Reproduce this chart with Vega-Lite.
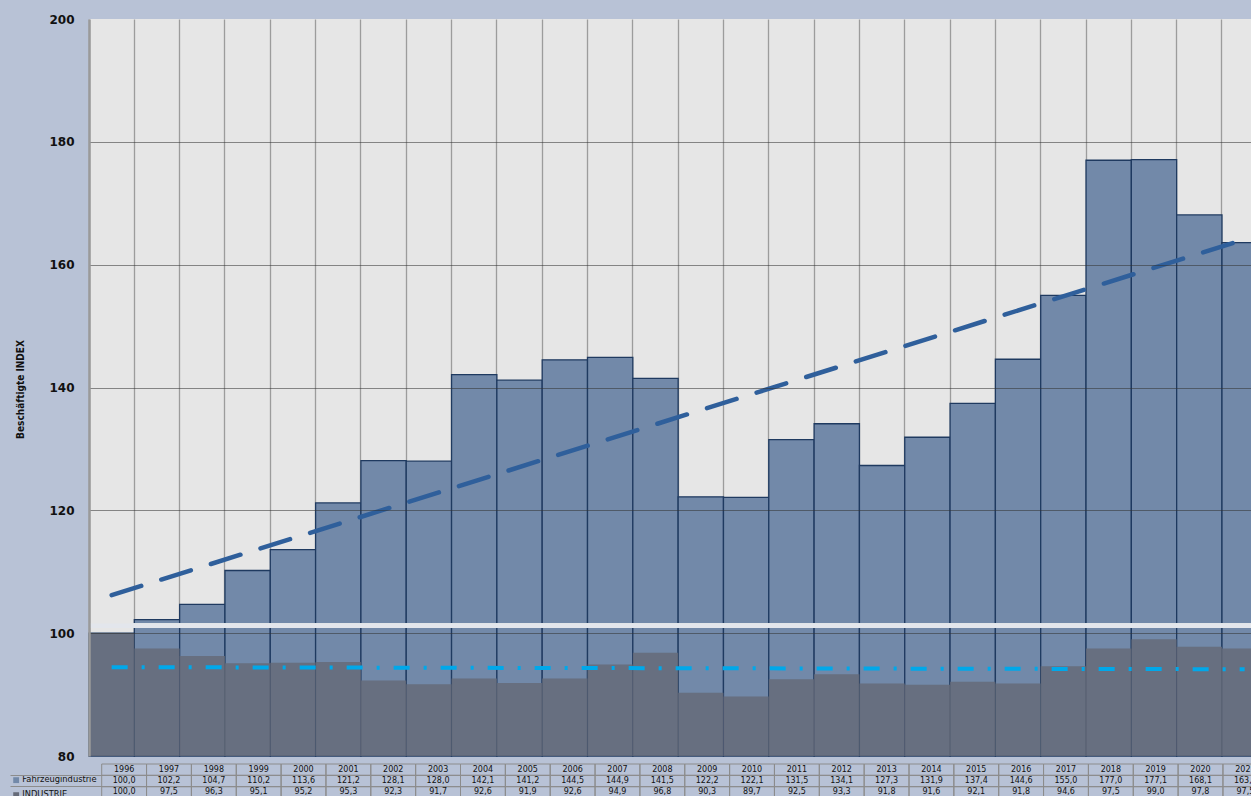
{
  "$schema": "https://vega.github.io/schema/vega-lite/v6.json",
  "autosize": {"type": "none"},
  "width": 1162,
  "height": 737,
  "padding": {"left": 89, "top": 19, "right": 0, "bottom": 40},
  "background": "#B8C2D6",
  "config": {
    "view": {"fill": "#E6E6E6", "stroke": null},
    "locale": {"number": {"decimal": ",", "thousands": ".", "grouping": [3], "currency": ["", " €"]}}
  },
  "data": {"values": [
    {"year": 1996, "series": "Fahrzeugindustrie", "value": 100.0},
    {"year": 1997, "series": "Fahrzeugindustrie", "value": 102.2},
    {"year": 1998, "series": "Fahrzeugindustrie", "value": 104.7},
    {"year": 1999, "series": "Fahrzeugindustrie", "value": 110.2},
    {"year": 2000, "series": "Fahrzeugindustrie", "value": 113.6},
    {"year": 2001, "series": "Fahrzeugindustrie", "value": 121.2},
    {"year": 2002, "series": "Fahrzeugindustrie", "value": 128.1},
    {"year": 2003, "series": "Fahrzeugindustrie", "value": 128.0},
    {"year": 2004, "series": "Fahrzeugindustrie", "value": 142.1},
    {"year": 2005, "series": "Fahrzeugindustrie", "value": 141.2},
    {"year": 2006, "series": "Fahrzeugindustrie", "value": 144.5},
    {"year": 2007, "series": "Fahrzeugindustrie", "value": 144.9},
    {"year": 2008, "series": "Fahrzeugindustrie", "value": 141.5},
    {"year": 2009, "series": "Fahrzeugindustrie", "value": 122.2},
    {"year": 2010, "series": "Fahrzeugindustrie", "value": 122.1},
    {"year": 2011, "series": "Fahrzeugindustrie", "value": 131.5},
    {"year": 2012, "series": "Fahrzeugindustrie", "value": 134.1},
    {"year": 2013, "series": "Fahrzeugindustrie", "value": 127.3},
    {"year": 2014, "series": "Fahrzeugindustrie", "value": 131.9},
    {"year": 2015, "series": "Fahrzeugindustrie", "value": 137.4},
    {"year": 2016, "series": "Fahrzeugindustrie", "value": 144.6},
    {"year": 2017, "series": "Fahrzeugindustrie", "value": 155.0},
    {"year": 2018, "series": "Fahrzeugindustrie", "value": 177.0},
    {"year": 2019, "series": "Fahrzeugindustrie", "value": 177.1},
    {"year": 2020, "series": "Fahrzeugindustrie", "value": 168.1},
    {"year": 2021, "series": "Fahrzeugindustrie", "value": 163.6},
    {"year": 1996, "series": "INDUSTRIE", "value": 100.0},
    {"year": 1997, "series": "INDUSTRIE", "value": 97.5},
    {"year": 1998, "series": "INDUSTRIE", "value": 96.3},
    {"year": 1999, "series": "INDUSTRIE", "value": 95.1},
    {"year": 2000, "series": "INDUSTRIE", "value": 95.2},
    {"year": 2001, "series": "INDUSTRIE", "value": 95.3},
    {"year": 2002, "series": "INDUSTRIE", "value": 92.3},
    {"year": 2003, "series": "INDUSTRIE", "value": 91.7},
    {"year": 2004, "series": "INDUSTRIE", "value": 92.6},
    {"year": 2005, "series": "INDUSTRIE", "value": 91.9},
    {"year": 2006, "series": "INDUSTRIE", "value": 92.6},
    {"year": 2007, "series": "INDUSTRIE", "value": 94.9},
    {"year": 2008, "series": "INDUSTRIE", "value": 96.8},
    {"year": 2009, "series": "INDUSTRIE", "value": 90.3},
    {"year": 2010, "series": "INDUSTRIE", "value": 89.7},
    {"year": 2011, "series": "INDUSTRIE", "value": 92.5},
    {"year": 2012, "series": "INDUSTRIE", "value": 93.3},
    {"year": 2013, "series": "INDUSTRIE", "value": 91.8},
    {"year": 2014, "series": "INDUSTRIE", "value": 91.6},
    {"year": 2015, "series": "INDUSTRIE", "value": 92.1},
    {"year": 2016, "series": "INDUSTRIE", "value": 91.8},
    {"year": 2017, "series": "INDUSTRIE", "value": 94.6},
    {"year": 2018, "series": "INDUSTRIE", "value": 97.5},
    {"year": 2019, "series": "INDUSTRIE", "value": 99.0},
    {"year": 2020, "series": "INDUSTRIE", "value": 97.8},
    {"year": 2021, "series": "INDUSTRIE", "value": 97.5}
  ]},
  "resolve": {
    "scale": {"x": "independent", "y": "independent"},
    "axis": {"x": "independent", "y": "independent"}
  },
  "layer": [
    {
      "encoding": {
        "x": {"field": "year", "type": "ordinal",
          "scale": {"type": "band", "paddingInner": 0, "paddingOuter": 0, "range": [0, 1178.3]},
          "axis": {"orient": "bottom", "labels": false, "ticks": false, "domain": false, "title": null,
            "grid": true, "gridColor": "#9c9c9c", "gridWidth": 1.3, "bandPosition": 0, "zindex": 0}},
        "y": {"field": "value", "type": "quantitative",
          "scale": {"domain": [80, 200], "nice": false, "zero": false},
          "axis": {"orient": "left", "values": [80, 100, 120, 140, 160, 180, 200],
            "title": "Beschäftigte INDEX",
            "titleFont": "DejaVu Sans Condensed", "titleFontWeight": "bold", "titleFontSize": 10, "titleColor": "#111",
            "titleX": -69, "titleY": 370, "titleAngle": -90, "titleAlign": "center", "titleBaseline": "middle",
            "labelFont": "DejaVu Sans", "labelFontWeight": "bold", "labelFontSize": 12, "labelColor": "#111",
            "labelPadding": 15, "ticks": false, "tickSize": 0,
            "domain": true, "domainColor": "#9a9a9a", "domainWidth": 2.5,
            "grid": true, "gridColor": "#333333",
            "gridOpacity": {"condition": {"test": "datum.value === 200 || datum.value === 80", "value": 0}, "value": 0.55},
            "zindex": 1}}
      },
      "layer": [
        {
          "mark": {"type": "bar", "strokeWidth": 1.3},
          "encoding": {
            "y2": {"datum": 80},
            "color": {"field": "series", "type": "nominal",
              "scale": {"domain": ["Fahrzeugindustrie", "INDUSTRIE"], "range": ["#7289A9", "#666B79"]},
              "legend": {"orient": "none", "legendX": -77, "legendY": 757, "title": null,
                "symbolType": "square", "symbolSize": 34, "labelFont": "DejaVu Sans", "labelFontSize": 8.3,
                "labelColor": "#111", "labelOffset": 2, "rowPadding": 2, "padding": 0,
                "encode": {"symbols": {
                  "enter": {
                    "fill": {"signal": "datum.value === 'Fahrzeugindustrie' ? '#4A74B0' : '#9C9C9C'"},
                    "stroke": {"signal": "datum.value === 'Fahrzeugindustrie' ? '#1F3864' : '#9C9C9C'"},
                    "strokeWidth": {"value": 1}, "opacity": {"value": 1}},
                  "update": {
                    "fill": {"signal": "datum.value === 'Fahrzeugindustrie' ? '#4A74B0' : '#9C9C9C'"},
                    "stroke": {"signal": "datum.value === 'Fahrzeugindustrie' ? '#1F3864' : '#9C9C9C'"},
                    "strokeWidth": {"value": 1}, "opacity": {"value": 1}}}}}},
            "opacity": {"condition": {"test": "datum.series === 'INDUSTRIE'", "value": 0.85}, "value": 1},
            "stroke": {"condition": {"test": "datum.series === 'Fahrzeugindustrie'", "value": "#1F3A60"}, "value": "transparent"}
          }
        },
        {
          "mark": {"type": "rule", "color": "#E3E6EC", "strokeWidth": 4},
          "encoding": {"y": {"datum": 101.2}, "x": null}
        },
        {
          "transform": [
            {"filter": "datum.series === 'Fahrzeugindustrie'"},
            {"regression": "value", "on": "year"}
          ],
          "mark": {"type": "line", "color": "#2F5F9B", "strokeWidth": 4.5, "strokeCap": "round", "strokeDash": [31, 21]}
        },
        {
          "transform": [
            {"filter": "datum.series === 'INDUSTRIE'"},
            {"regression": "value", "on": "year"}
          ],
          "mark": {"type": "line", "color": "#00A8EA", "strokeWidth": 4, "strokeCap": "butt", "strokeDash": [16, 14, 3, 14]}
        }
      ]
    },
    {
      "encoding": {
        "x": {"field": "year", "type": "ordinal",
          "scale": {"type": "band", "paddingInner": 0, "paddingOuter": 0, "range": [12.7, 1178.8]},
          "axis": null},
        "y": {"field": "series", "type": "nominal",
          "scale": {"type": "band", "domain": ["Jahr", "Fahrzeugindustrie", "INDUSTRIE"], "range": [745, 779], "paddingInner": 0, "paddingOuter": 0},
          "axis": {"orient": "left", "offset": -12.7, "values": ["Fahrzeugindustrie", "INDUSTRIE"], "bandPosition": 0,
            "labels": false, "domain": false, "grid": false, "title": null,
            "ticks": true, "tickSize": 91.7, "tickColor": "#8c8c8c", "tickWidth": 1}}
      },
      "layer": [
        {
          "mark": {"type": "rect", "fill": null, "stroke": "#8c8c8c", "strokeWidth": 1}
        },
        {
          "mark": {"type": "text", "font": "DejaVu Sans", "fontSize": 8, "color": "#111111", "baseline": "middle"},
          "encoding": {"text": {"field": "value", "type": "quantitative", "format": ".1f"}}
        },
        {
          "transform": [{"filter": "datum.series === 'Fahrzeugindustrie'"}],
          "mark": {"type": "rect", "fill": null, "stroke": "#8c8c8c", "strokeWidth": 1},
          "encoding": {"y": {"datum": "Jahr"}}
        },
        {
          "transform": [{"filter": "datum.series === 'Fahrzeugindustrie'"}],
          "mark": {"type": "text", "font": "DejaVu Sans", "fontSize": 8, "color": "#111111", "baseline": "middle"},
          "encoding": {"y": {"datum": "Jahr"}, "text": {"field": "year", "type": "nominal"}}
        }
      ]
    }
  ]
}
